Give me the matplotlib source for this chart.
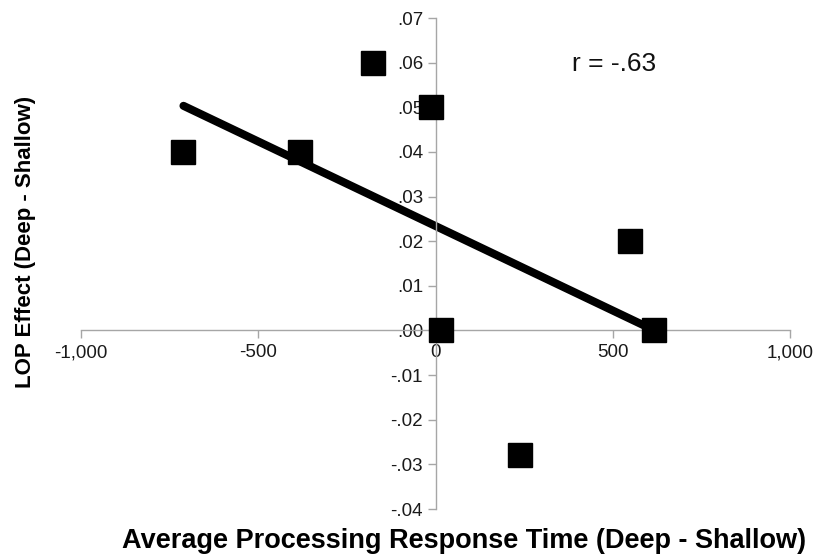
import numpy as np
import matplotlib
matplotlib.use("Agg")
import matplotlib.pyplot as plt
from matplotlib.ticker import FuncFormatter

"""
LOP effect vs average processing response time, with fitted line
"""

# data
rt_diff = [-711, -381, -176, -12, 16, 237, 549, 615]
lop_effect = [0.040, 0.040, 0.060, 0.050, 0.000, -0.028, 0.020, 0.000]

x_ticks = [-1000, -500, 0, 500, 1000]
y_ticks = [-0.04, -0.03, -0.02, -0.01, 0.00, 0.01, 0.02, 0.03, 0.04, 0.05, 0.06, 0.07]
r_label = "r = -.63"


def fmt_y(v, pos):
    """ Excel style: .05, -.01 """
    s = "%.2f" % v
    s = s.replace("0.", ".")
    if s == "-.00":
        s = ".00"
    return s


def fmt_x(v, pos):
    return "{:,.0f}".format(v)


def plot(x, y):
    plt.rcParams['font.family'] = ['Liberation Sans', 'DejaVu Sans']
    fig = plt.figure(figsize=(8.16, 5.56), dpi=100)
    ax = fig.add_axes([0.0993, 0.0845, 0.8689, 0.8831])

    # least squares fit, drawn over the data range
    slope, icpt = np.polyfit(x, y, 1)
    xs = np.array([min(x), max(x)])
    ax.plot(xs, slope * xs + icpt, color='black', lw=5.8, solid_capstyle='round', zorder=2)

    ax.plot(x, y, linestyle='none', marker='s', ms=17, color='black', zorder=3)

    ax.set_xlim(-1000, 1000)
    ax.set_ylim(-0.04, 0.07)
    ax.set_xticks(x_ticks)
    ax.set_yticks(y_ticks)
    ax.xaxis.set_major_formatter(FuncFormatter(fmt_x))
    ax.yaxis.set_major_formatter(FuncFormatter(fmt_y))

    # axes cross at the origin
    ax.spines['left'].set_position(('data', 0))
    ax.spines['bottom'].set_position(('data', 0))
    ax.spines['right'].set_visible(False)
    ax.spines['top'].set_visible(False)
    for s in ('left', 'bottom'):
        ax.spines[s].set_color('#a6a6a6')
        ax.spines[s].set_linewidth(1.0)
    ax.tick_params(axis='both', colors='#a6a6a6', length=6, width=1.0,
                   labelsize=13.5, labelcolor='#1a1a1a', direction='out')
    ax.tick_params(axis='x', pad=4)
    ax.tick_params(axis='y', pad=3)
    ax.set_facecolor('none')

    ax.text(0.752, 0.906, r_label, transform=ax.transAxes, fontsize=19,
            ha='center', va='center', color='#111111')

    fig.text(0.569, 0.027, "Average Processing Response Time (Deep - Shallow)",
             fontsize=19.5, fontweight='bold', ha='center', va='center')
    fig.text(0.031, 0.565, "LOP Effect (Deep - Shallow)", rotation=90,
             fontsize=16, fontweight='bold', ha='center', va='center')

    fig.savefig("out.png", dpi=100)


def main():
    plot(rt_diff, lop_effect)


if __name__ == "__main__":
    main()
